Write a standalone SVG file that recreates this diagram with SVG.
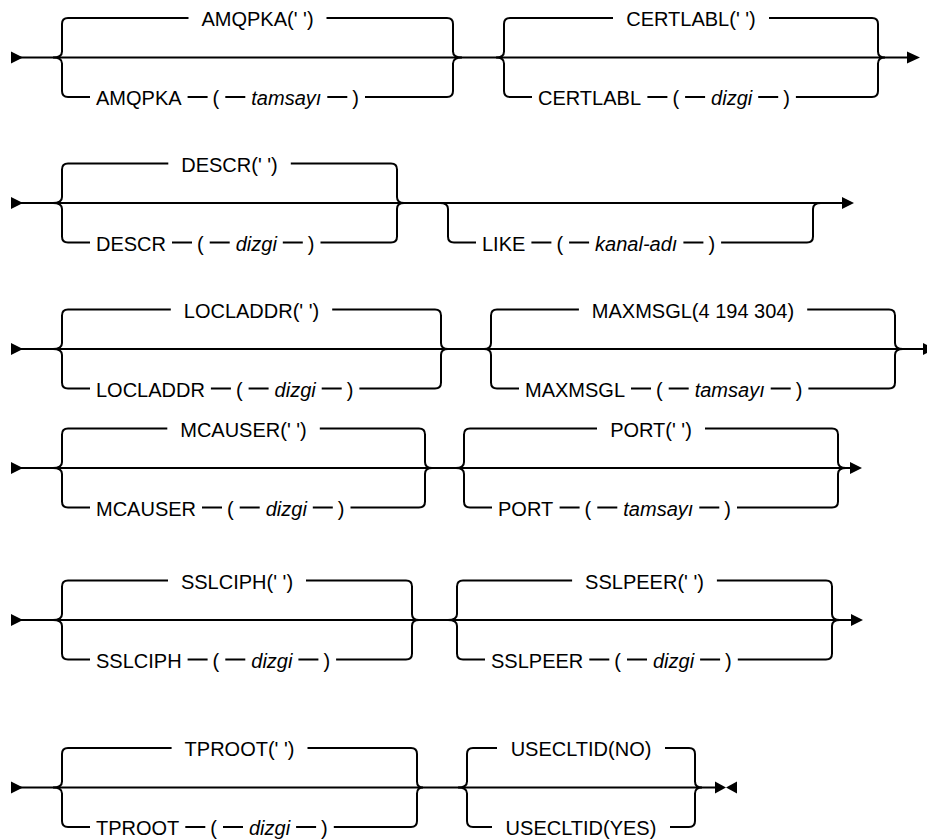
<svg xmlns="http://www.w3.org/2000/svg" width="927" height="840" viewBox="0 0 927 840">
<style>
.ln{fill:none;stroke:#000;stroke-width:2}
.ah{fill:#000;stroke:none}
text{font-family:"Liberation Sans",Arial,sans-serif;font-size:20px;fill:#000}
.i{font-style:italic}
.c{text-anchor:middle}
</style>
<rect width="927" height="840" fill="#fff"/>
<g id="connectors">
<path class="ln" d="M20,57.5 H908 M20,203 H843 M20,349 H924 M20,468 H851 M20,620 H852 M20,787.5 H716"/>
<polygon class="ah" points="11,51.5 23,57.5 11,63.5"/>
<polygon class="ah" points="11,197 23,203 11,209"/>
<polygon class="ah" points="11,343 23,349 11,355"/>
<polygon class="ah" points="11,462 23,468 11,474"/>
<polygon class="ah" points="11,614 23,620 11,626"/>
<polygon class="ah" points="11,781.5 23,787.5 11,793.5"/>
<polygon class="ah" points="907,51.5 920,57.5 907,63.5"/>
<polygon class="ah" points="842,197 854,203 842,209"/>
<polygon class="ah" points="923,343 935,349 923,355"/>
<polygon class="ah" points="850,462 862,468 850,474"/>
<polygon class="ah" points="851,614 863,620 851,626"/>
<polygon class="ah" points="715,781.5 726,787.5 715,793.5"/>
<polygon class="ah" points="737,781.5 726,787.5 737,793.5"/>
</g>
<g id="amqpka">
<path class="ln" d="M53,57.5 Q62,57.5 62,51.5 V24 Q62,18 68,18 H188.5 M53,57.5 Q62,57.5 62,63.5 V91 Q62,97 68,97 H90 M326.5,18 H447 Q453,18 453,24 V51.5 Q453,57.5 462,57.5 M365,97 H447 Q453,97 453,91 V63.5 Q453,57.5 462,57.5 M187.6,97 H207.6 M225.3,97 H245.3 M327.3,97 H347.3"/>
<text class="c" x="257.5" y="26">AMQPKA(' ')</text>
<text x="96" y="105">AMQPKA</text>
<text x="212.6" y="105">(</text>
<text class="i" x="251.3" y="105">tamsayı</text>
<text x="352.3" y="105">)</text>
</g>
<g id="certlabl">
<path class="ln" d="M496,57.5 Q504,57.5 504,51.5 V24 Q504,18 510,18 H613 M496,57.5 Q504,57.5 504,63.5 V91 Q504,97 510,97 H532 M769,18 H872 Q878,18 878,24 V51.5 Q878,57.5 885,57.5 M795.9,97 H872 Q878,97 878,91 V63.5 Q878,57.5 885,57.5 M647.4,97 H667.4 M685.1,97 H705.1 M758.2,97 H778.2"/>
<text class="c" x="691" y="26">CERTLABL(' ')</text>
<text x="538" y="105">CERTLABL</text>
<text x="672.4" y="105">(</text>
<text class="i" x="711.1" y="105">dizgi</text>
<text x="783.2" y="105">)</text>
</g>
<g id="descr">
<path class="ln" d="M53,203 Q62,203 62,197 V169.5 Q62,163.5 68,163.5 H168.3 M53,203 Q62,203 62,209 V236.5 Q62,242.5 68,242.5 H90 M290.8,163.5 H391 Q397,163.5 397,169.5 V197 Q397,203 404,203 M320.5,242.5 H391 Q397,242.5 397,236.5 V209 Q397,203 404,203 M172,242.5 H192 M209.7,242.5 H229.7 M282.8,242.5 H302.8"/>
<text class="c" x="229.5" y="171.5">DESCR(' ')</text>
<text x="96" y="250.5">DESCR</text>
<text x="197" y="250.5">(</text>
<text class="i" x="235.7" y="250.5">dizgi</text>
<text x="307.8" y="250.5">)</text>
</g>
<g id="like">
<path class="ln" d="M440,203 Q448,203 448,209 V236.5 Q448,242.5 454,242.5 H476 M721.1,242.5 H807 Q813,242.5 813,236.5 V209 Q813,203 821,203 M531.4,242.5 H551.4 M569.1,242.5 H589.1 M683.4,242.5 H703.4"/>
<text x="482" y="250.5">LIKE</text>
<text x="556.4" y="250.5">(</text>
<text class="i" x="595.1" y="250.5">kanal-adı</text>
<text x="708.4" y="250.5">)</text>
</g>
<g id="locladdr">
<path class="ln" d="M53,349 Q62,349 62,343 V315.5 Q62,309.5 68,309.5 H170.8 M53,349 Q62,349 62,355 V382.5 Q62,388.5 68,388.5 H90 M332.2,309.5 H435 Q441,309.5 441,315.5 V343 Q441,349 448,349 M359.4,388.5 H435 Q441,388.5 441,382.5 V355 Q441,349 448,349 M210.9,388.5 H230.9 M248.6,388.5 H268.6 M321.7,388.5 H341.7"/>
<text class="c" x="251.5" y="317.5">LOCLADDR(' ')</text>
<text x="96" y="396.5">LOCLADDR</text>
<text x="235.9" y="396.5">(</text>
<text class="i" x="274.6" y="396.5">dizgi</text>
<text x="346.7" y="396.5">)</text>
</g>
<g id="maxmsgl">
<path class="ln" d="M484,349 Q491,349 491,343 V315.5 Q491,309.5 497,309.5 H578.9 M484,349 Q491,349 491,355 V382.5 Q491,388.5 497,388.5 H519 M807.2,309.5 H889 Q895,309.5 895,315.5 V343 Q895,349 903,349 M808.4,388.5 H889 Q895,388.5 895,382.5 V355 Q895,349 903,349 M631,388.5 H651 M668.7,388.5 H688.7 M770.7,388.5 H790.7"/>
<text class="c" x="693" y="317.5">MAXMSGL(4 194 304)</text>
<text x="525" y="396.5">MAXMSGL</text>
<text x="656" y="396.5">(</text>
<text class="i" x="694.7" y="396.5">tamsayı</text>
<text x="795.7" y="396.5">)</text>
</g>
<g id="mcauser">
<path class="ln" d="M53,468 Q62,468 62,462 V434.5 Q62,428.5 68,428.5 H167.3 M53,468 Q62,468 62,474 V501.5 Q62,507.5 68,507.5 H90 M319.8,428.5 H419 Q425,428.5 425,434.5 V462 Q425,468 432,468 M350.5,507.5 H419 Q425,507.5 425,501.5 V474 Q425,468 432,468 M202,507.5 H222 M239.7,507.5 H259.7 M312.8,507.5 H332.8"/>
<text class="c" x="243.5" y="436.5">MCAUSER(' ')</text>
<text x="96" y="515.5">MCAUSER</text>
<text x="227" y="515.5">(</text>
<text class="i" x="265.7" y="515.5">dizgi</text>
<text x="337.8" y="515.5">)</text>
</g>
<g id="port">
<path class="ln" d="M456,468 Q464,468 464,462 V434.5 Q464,428.5 470,428.5 H597 M456,468 Q464,468 464,474 V501.5 Q464,507.5 470,507.5 H492 M705,428.5 H832 Q838,428.5 838,434.5 V462 Q838,468 846,468 M737,507.5 H832 Q838,507.5 838,501.5 V474 Q838,468 846,468 M559.6,507.5 H579.6 M597.3,507.5 H617.3 M699.3,507.5 H719.3"/>
<text class="c" x="651" y="436.5">PORT(' ')</text>
<text x="498" y="515.5">PORT</text>
<text x="584.6" y="515.5">(</text>
<text class="i" x="623.3" y="515.5">tamsayı</text>
<text x="724.3" y="515.5">)</text>
</g>
<g id="sslciph">
<path class="ln" d="M53,620 Q62,620 62,614 V586.5 Q62,580.5 68,580.5 H168 M53,620 Q62,620 62,626 V653.5 Q62,659.5 68,659.5 H90 M306,580.5 H406 Q412,580.5 412,586.5 V614 Q412,620 419,620 M336.1,659.5 H406 Q412,659.5 412,653.5 V626 Q412,620 419,620 M187.6,659.5 H207.6 M225.3,659.5 H245.3 M298.4,659.5 H318.4"/>
<text class="c" x="237" y="588.5">SSLCIPH(' ')</text>
<text x="96" y="667.5">SSLCIPH</text>
<text x="212.6" y="667.5">(</text>
<text class="i" x="251.3" y="667.5">dizgi</text>
<text x="323.4" y="667.5">)</text>
</g>
<g id="sslpeer">
<path class="ln" d="M448,620 Q457,620 457,614 V586.5 Q457,580.5 463,580.5 H572.1 M448,620 Q457,620 457,626 V653.5 Q457,659.5 463,659.5 H485 M716.9,580.5 H826 Q832,580.5 832,586.5 V614 Q832,620 840,620 M737.8,659.5 H826 Q832,659.5 832,653.5 V626 Q832,620 840,620 M589.3,659.5 H609.3 M627,659.5 H647 M700.1,659.5 H720.1"/>
<text class="c" x="644.5" y="588.5">SSLPEER(' ')</text>
<text x="491" y="667.5">SSLPEER</text>
<text x="614.3" y="667.5">(</text>
<text class="i" x="653" y="667.5">dizgi</text>
<text x="725.1" y="667.5">)</text>
</g>
<g id="tproot">
<path class="ln" d="M53,787.5 Q62,787.5 62,781.5 V754 Q62,748 68,748 H171.6 M53,787.5 Q62,787.5 62,793.5 V821 Q62,827 68,827 H90 M307.5,748 H411 Q417,748 417,754 V781.5 Q417,787.5 423,787.5 M333.8,827 H411 Q417,827 417,821 V793.5 Q417,787.5 423,787.5 M185.3,827 H205.3 M223,827 H243 M296.1,827 H316.1"/>
<text class="c" x="239.5" y="756">TPROOT(' ')</text>
<text x="96" y="835">TPROOT</text>
<text x="210.3" y="835">(</text>
<text class="i" x="249" y="835">dizgi</text>
<text x="321.1" y="835">)</text>
</g>
<g id="usecltid">
<path class="ln" d="M458,787.5 Q467,787.5 467,781.5 V754 Q467,748 473,748 H497 M458,787.5 Q467,787.5 467,793.5 V821 Q467,827 473,827 H492 M665,748 H689 Q695,748 695,754 V781.5 Q695,787.5 702,787.5 M670,827 H689 Q695,827 695,821 V793.5 Q695,787.5 702,787.5"/>
<text class="c" x="581" y="756">USECLTID(NO)</text>
<text class="c" x="581" y="835">USECLTID(YES)</text>
</g>
</svg>
